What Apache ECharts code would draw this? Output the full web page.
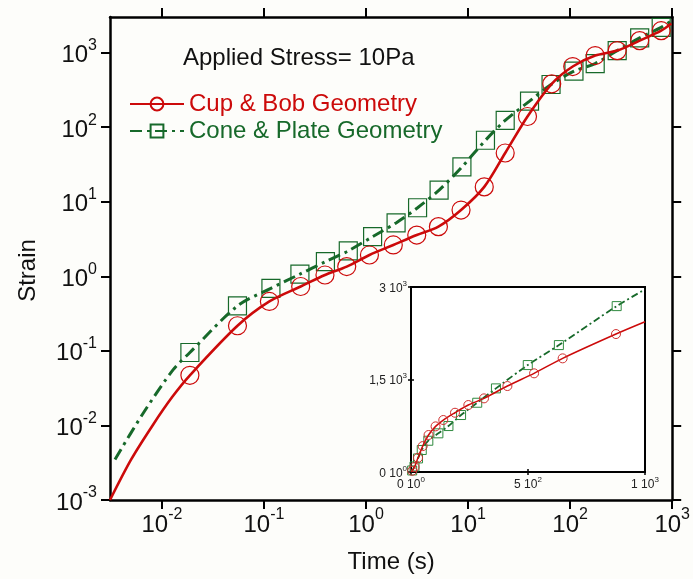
<!DOCTYPE html>
<html>
<head>
<meta charset="utf-8">
<script src="https://cdn.jsdelivr.net/npm/echarts@6/dist/echarts.min.js"></script>
<style>
html,body{margin:0;padding:0;background:#fdfdfa;}
#chart{width:693px;height:579px;}
</style>
</head>
<body>
<div id="chart"></div>
<script>
// ---- main chart data (log-log) ----
const cbLeadTime = [0.0031, 0.005, 0.0081, 0.0126];
const cbLeadStrain = [0.001, 0.0035, 0.01, 0.024];
const cbTime = [0.0188, 0.055, 0.113, 0.229, 0.396, 0.647, 1.08, 1.85, 3.14, 5.12, 8.53, 14.4, 23.1, 38.2, 66, 106, 176, 289, 480, 780];
const cbStrain = [0.047, 0.217, 0.46, 0.73, 1.04, 1.35, 1.93, 2.63, 3.57, 4.63, 7.73, 15.8, 45, 139, 381, 650, 912, 1063, 1447, 1967];
const cbTailTime = [980];
const cbTailStrain = [2450];

const cpLeadTime = [0.00347, 0.0066, 0.0129];
const cpLeadStrain = [0.0035, 0.0148, 0.056];
const cpTime = [0.0188, 0.055, 0.117, 0.225, 0.40, 0.67, 1.16, 1.97, 3.2, 5.2, 8.7, 14.8, 23.1, 40, 65, 109, 176, 289, 480, 780];
const cpStrain = [0.095, 0.40, 0.69, 1.07, 1.57, 2.19, 3.4, 5.2, 8.3, 14.3, 29.3, 66.7, 123, 223, 373, 563, 713, 1063, 1573, 2180];
const cpTailTime = [980];
const cpTailStrain = [2650];

// ---- inset data (linear) ----
const insetCbTime = [5, 15, 30, 50, 75, 105, 138, 188, 245, 312, 412, 526, 648, 876];
const insetCbStrain = [20, 80, 230, 420, 600, 740, 843, 961, 1086, 1194, 1394, 1600, 1843, 2237];
const insetCbEnds = [[0, 0], [1000, 2436]];
const insetCpTime = [5, 15, 30, 46, 74, 117, 160, 214, 283, 363, 499, 632, 879];
const insetCpStrain = [25, 90, 220, 357, 507, 627, 745, 924, 1123, 1356, 1734, 2058, 2690];
const insetCpEnds = [[0, 0], [1000, 2961]];

// ---- tick values ----
const xTicks = [0.01, 0.1, 1, 10, 100, 1000];
const yTicks = [0.001, 0.01, 0.1, 1, 10, 100, 1000];
const insetXTicks = [0, 500, 1000];
const insetXLabels = [['0 10', '0'], ['5 10', '2'], ['1 10', '3']];
const insetYTicks = [0, 1500, 3000];
const insetYLabels = [['0 10', '0'], ['1,5 10', '3'], ['3 10', '3']];

const RED = '#cc0a0a';
const GREEN = '#17692a';
const FONT = 'Liberation Sans';

function withMarks(leadT, leadS, t, s, tailT, tailS) {
  const out = [];
  leadT.forEach((v, i) => out.push({ value: [v, leadS[i]], symbol: 'none' }));
  t.forEach((v, i) => out.push({ value: [v, s[i]] }));
  tailT.forEach((v, i) => out.push({ value: [v, tailS[i]], symbol: 'none' }));
  return out;
}
function insetData(ends, t, s) {
  const out = [{ value: ends[0], symbol: 'none' }];
  t.forEach((v, i) => out.push({ value: [v, s[i]] }));
  out.push({ value: ends[1], symbol: 'none' });
  return out;
}
function powLabel(v) {
  const e = Math.round(Math.log10(v));
  return '{b|10}{s|' + e + '}';
}
const powRich = {
  b: { fontSize: 24, fontFamily: FONT, color: '#111', verticalAlign: 'bottom', lineHeight: 30 },
  s: { fontSize: 16, fontFamily: FONT, color: '#111', verticalAlign: 'top', lineHeight: 30 }
};
const smallRich = {
  b: { fontSize: 12, fontFamily: FONT, color: '#222', verticalAlign: 'bottom', lineHeight: 15 },
  s: { fontSize: 8, fontFamily: FONT, color: '#222', verticalAlign: 'top', lineHeight: 15 }
};
function findLabel(ticks, labels, v) {
  const i = ticks.indexOf(v);
  if (i < 0) return '';
  return '{b|' + labels[i][0] + '}{s|' + labels[i][1] + '}';
}

const chart = echarts.init(document.getElementById('chart'), null, { renderer: 'canvas' });
const axisLineStyle = { color: '#000', width: 2.5 };

const option = {
  backgroundColor: '#fdfdfa',
  animation: false,
  title: {
    text: 'Applied Stress= 10Pa',
    left: 178, top: 41,
    textStyle: { fontFamily: FONT, fontSize: 24, fontWeight: 'normal', color: '#111' }
  },
  legend: {
    orient: 'vertical',
    left: 124, top: 87,
    itemWidth: 54, itemHeight: 16, itemGap: 3,
    textStyle: { fontFamily: FONT, fontSize: 24 },
    data: [
      { name: 'Cup & Bob Geometry', textStyle: { color: RED } },
      { name: 'Cone & Plate Geometry', textStyle: { color: GREEN } }
    ]
  },
  grid: [
    { left: 110, top: 17, right: 20, bottom: 78, show: false },
    { left: 411, top: 287, width: 234, height: 185, show: true, backgroundColor: '#fff', borderColor: '#000', borderWidth: 2, z: 5 }
  ],
  xAxis: [
    {
      type: 'log', gridIndex: 0, min: 0.0031, max: 1000,
      name: 'Time (s)', nameLocation: 'middle', nameGap: 50,
      nameTextStyle: { fontFamily: FONT, fontSize: 24, color: '#111' },
      axisLine: { lineStyle: axisLineStyle },
      axisTick: { inside: false, length: 9, lineStyle: { width: 2, color: '#000' }, customValues: xTicks },
      axisLabel: { customValues: xTicks, formatter: powLabel, rich: powRich, margin: 7 },
      splitLine: { show: false }, minorTick: { show: false }
    },
    {
      type: 'log', gridIndex: 0, position: 'top', min: 0.0031, max: 1000,
      axisLine: { lineStyle: axisLineStyle },
      axisTick: { inside: false, length: 9, lineStyle: { width: 2, color: '#000' }, customValues: xTicks },
      axisLabel: { show: false },
      splitLine: { show: false }
    },
    {
      type: 'value', gridIndex: 1, min: 0, max: 1000, interval: 500,
      axisLine: { lineStyle: { color: '#000', width: 2 } },
      axisTick: { inside: false, length: 3, lineStyle: { width: 1.5, color: '#000' } },
      axisLabel: { formatter: v => findLabel(insetXTicks, insetXLabels, v), rich: smallRich, margin: 4 },
      splitLine: { show: false }, z: 6
    },
    {
      type: 'value', gridIndex: 1, position: 'top', min: 0, max: 1000, interval: 500,
      axisLine: { lineStyle: { color: '#000', width: 2 } },
      axisTick: { inside: false, length: 3, lineStyle: { width: 1.5, color: '#000' } },
      axisLabel: { show: false }, splitLine: { show: false }, z: 6
    }
  ],
  yAxis: [
    {
      type: 'log', gridIndex: 0, min: 0.001, max: 3000,
      name: 'Strain', nameLocation: 'middle', nameGap: 70, nameRotate: 90,
      nameTextStyle: { fontFamily: FONT, fontSize: 24, color: '#111', padding: [0, 24, 0, 0] },
      axisLine: { lineStyle: axisLineStyle },
      axisTick: { inside: false, length: 9, lineStyle: { width: 2, color: '#000' }, customValues: yTicks },
      axisLabel: { customValues: yTicks, formatter: powLabel, rich: powRich, margin: 13 },
      splitLine: { show: false }, minorTick: { show: false }
    },
    {
      type: 'log', gridIndex: 0, position: 'right', min: 0.001, max: 3000,
      axisLine: { lineStyle: axisLineStyle },
      axisTick: { inside: false, length: 9, lineStyle: { width: 2, color: '#000' }, customValues: yTicks },
      axisLabel: { show: false },
      splitLine: { show: false }
    },
    {
      type: 'value', gridIndex: 1, min: 0, max: 3000, interval: 1500,
      axisLine: { lineStyle: { color: '#000', width: 2 } },
      axisTick: { inside: false, length: 3, lineStyle: { width: 1.5, color: '#000' } },
      axisLabel: { formatter: v => findLabel(insetYTicks, insetYLabels, v), rich: smallRich, margin: 4 },
      splitLine: { show: false }, z: 6
    },
    {
      type: 'value', gridIndex: 1, position: 'right', min: 0, max: 3000, interval: 1500,
      axisLine: { lineStyle: { color: '#000', width: 2 } },
      axisTick: { inside: false, length: 3, lineStyle: { width: 1.5, color: '#000' } },
      axisLabel: { show: false }, splitLine: { show: false }, z: 6
    }
  ],
  series: [
    {
      name: 'Cup & Bob Geometry', type: 'line', xAxisIndex: 0, yAxisIndex: 0,
      smooth: 0.3, symbol: 'circle', symbolSize: 18,
      data: withMarks(cbLeadTime, cbLeadStrain, cbTime, cbStrain, cbTailTime, cbTailStrain),
      lineStyle: { color: RED, width: 2.6 },
      itemStyle: { color: 'rgba(0,0,0,0)', borderColor: RED, borderWidth: 1.2 },
      emphasis: { disabled: true }, z: 3
    },
    {
      name: 'Cone & Plate Geometry', type: 'line', xAxisIndex: 0, yAxisIndex: 0,
      smooth: 0.3, symbol: 'rect', symbolSize: 18,
      data: withMarks(cpLeadTime, cpLeadStrain, cpTime, cpStrain, cpTailTime, cpTailStrain),
      lineStyle: { color: GREEN, width: 3, type: [12, 5, 3, 5] },
      itemStyle: { color: 'rgba(0,0,0,0)', borderColor: GREEN, borderWidth: 1.2 },
      emphasis: { disabled: true }, z: 2
    },
    {
      name: 'inset-cb', type: 'line', xAxisIndex: 2, yAxisIndex: 2,
      smooth: 0.3, symbol: 'circle', symbolSize: 9,
      data: insetData(insetCbEnds, insetCbTime, insetCbStrain),
      lineStyle: { color: RED, width: 1.5 },
      itemStyle: { color: 'rgba(0,0,0,0)', borderColor: '#d0302f', borderWidth: 1 },
      emphasis: { disabled: true }, z: 8
    },
    {
      name: 'inset-cp', type: 'line', xAxisIndex: 2, yAxisIndex: 2,
      smooth: 0.3, symbol: 'rect', symbolSize: 9,
      data: insetData(insetCpEnds, insetCpTime, insetCpStrain),
      lineStyle: { color: GREEN, width: 1.8, type: [7, 3, 2, 3] },
      itemStyle: { color: 'rgba(0,0,0,0)', borderColor: '#2f8a3f', borderWidth: 1 },
      emphasis: { disabled: true }, z: 7
    }
  ]
};
chart.setOption(option);
</script>
</body>
</html>
